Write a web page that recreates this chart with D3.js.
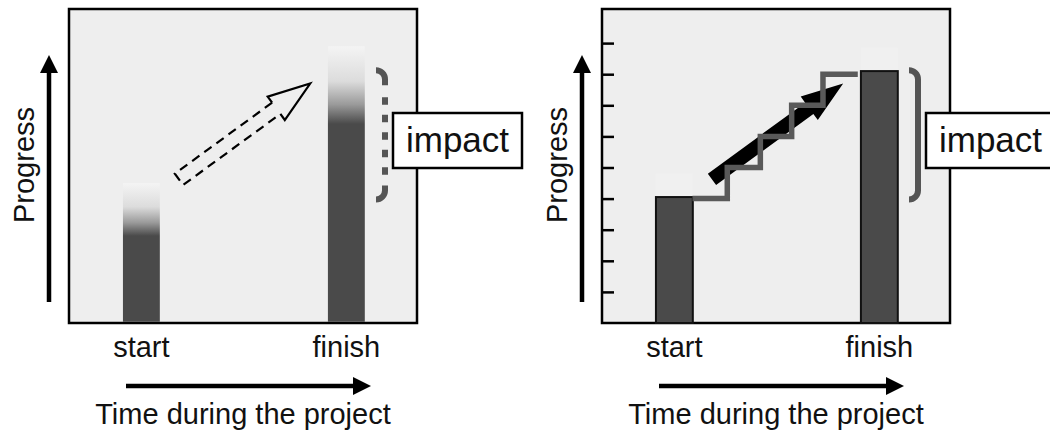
<!DOCTYPE html>
<html>
<head>
<meta charset="utf-8">
<script src="https://cdn.jsdelivr.net/npm/d3@7"></script>
<style>
  body { margin: 0; background: #fff; }
  text { font-family: Arial, "Liberation Sans", Helvetica, sans-serif; fill: #111; }
</style>
</head>
<body>
<div id="chart"></div>
<script>
// values (progress 0-10, time 0-10)
var phases = ["start", "finish"],
    phaseTime = [2.08, 7.97];

// left panel: fuzzy estimate, solid up to one value, fading out to another
var fuzzySolid = [2.8, 6.4],
    fuzzyTop = [4.5, 8.9];

// right panel: measured values and the stepwise path between them
var measured = [4.05, 8.1],
    stepTimes = [2.6, 3.6, 4.55, 5.45, 6.35, 7.35],
    stepValues = [4, 5, 6, 7, 8, 8];

var trendFrom = [3.16, 4.62],
    trendTo = [6.93, 7.7];

var impactRange = [3.97, 8.13];
var progressTicks = [1, 2, 3, 4, 5, 6, 7, 8, 9];

var yLabel = "Progress",
    xLabel = "Time during the project",
    impactLabel = "impact";

var W = 1050, H = 433;
var frameW = 348, frameTop = 9, frameBottom = 323;

var x = d3.scaleLinear().domain([0, 10]).range([0, frameW]);
var y = d3.scaleLinear().domain([0, 10]).range([frameBottom, 12]);
var barW = x(1.06) - x(0);

var svg = d3.select("#chart").append("svg")
    .attr("width", W)
    .attr("height", H);

var defs = svg.append("defs");

function arrowHead(id) {
    defs.append("marker")
        .attr("id", id)
        .attr("viewBox", "0 0 10 10")
        .attr("refX", 0).attr("refY", 5)
        .attr("markerUnits", "userSpaceOnUse")
        .attr("markerWidth", 18).attr("markerHeight", 18)
        .attr("orient", "auto")
      .append("path")
        .attr("d", "M0,0L10,5L0,10Z")
        .attr("fill", "#000");
}
arrowHead("head");

// fuzzy bar gradients
fuzzySolid.forEach(function(v, i) {
    var grad = defs.append("linearGradient")
        .attr("id", "fade" + i)
        .attr("gradientUnits", "userSpaceOnUse")
        .attr("x1", 0).attr("x2", 0)
        .attr("y1", y(fuzzyTop[i])).attr("y2", y(v));
    grad.append("stop").attr("offset", 0).attr("stop-color", "#f4f4f4");
    grad.append("stop").attr("offset", 0.45).attr("stop-color", "#dcdcdc");
    grad.append("stop").attr("offset", 0.75).attr("stop-color", "#9a9a9a");
    grad.append("stop").attr("offset", 1).attr("stop-color", "#4a4a4a");
});

// outline of the trend arrow, in px along its own axis
function arrowPoints(len) {
    var hl = 42, sw = 7, hw = 14.5;
    return {
        shaft: [[len - hl, -sw], [0, -sw], [0, sw], [len - hl, sw]],
        head: [[len - hl, -sw], [len - hl, -hw], [len, 0], [len - hl, hw], [len - hl, sw]],
        full: [[0, -sw], [len - hl, -sw], [len - hl, -hw], [len, 0], [len - hl, hw], [len - hl, sw], [0, sw]]
    };
}

function panel(left, precise) {
    var g = svg.append("g").attr("transform", "translate(" + left + ",0)");

    g.append("rect")
        .attr("x", 0).attr("y", frameTop)
        .attr("width", frameW).attr("height", frameBottom - frameTop)
        .attr("fill", "#eeeeee")
        .attr("stroke", "#000")
        .attr("stroke-width", 2.5);

    if (precise) {
        var ax = g.append("g")
            .call(d3.axisRight(y).tickValues(progressTicks).tickSize(12).tickFormat(""));
        ax.select(".domain").remove();
        ax.selectAll("line").attr("stroke", "#000").attr("stroke-width", 2.5);

        // faint ghosts above the bars
        g.selectAll(".ghost").data(measured).enter().append("rect")
            .attr("x", function(d, i) { return x(phaseTime[i]) - barW / 2; })
            .attr("y", function(d) { return y(d + 0.75); })
            .attr("width", barW)
            .attr("height", function(d) { return y(d) - y(d + 0.75); })
            .attr("fill", "#f0f0f0");

        g.selectAll(".bar").data(measured).enter().append("rect")
            .attr("x", function(d, i) { return x(phaseTime[i]) - barW / 2; })
            .attr("y", function(d) { return y(d); })
            .attr("width", barW)
            .attr("height", function(d) { return y(0) - y(d); })
            .attr("fill", "#4a4a4a")
            .attr("stroke", "#111")
            .attr("stroke-width", 2);
    } else {
        g.selectAll(".bar").data(fuzzyTop).enter().append("rect")
            .attr("x", function(d, i) { return x(phaseTime[i]) - barW / 2; })
            .attr("y", function(d) { return y(d); })
            .attr("width", barW)
            .attr("height", function(d) { return y(0) - y(d) - 1.2; })
            .attr("fill", function(d, i) { return "url(#fade" + i + ")"; });
    }

    // trend arrow
    var x0 = x(trendFrom[0]), y0 = y(trendFrom[1]),
        x1 = x(trendTo[0]), y1 = y(trendTo[1]);
    var len = Math.hypot(x1 - x0, y1 - y0),
        ang = Math.atan2(y1 - y0, x1 - x0) * 180 / Math.PI;
    var pts = arrowPoints(len);
    var ag = g.append("g")
        .attr("transform", "translate(" + x0 + "," + y0 + ") rotate(" + ang + ")");
    var line = d3.line();
    if (precise) {
        ag.append("path").attr("d", line(pts.full) + "Z").attr("fill", "#000");
    } else {
        ag.append("path").attr("d", line(pts.shaft))
            .attr("fill", "none").attr("stroke", "#000")
            .attr("stroke-width", 2.2).attr("stroke-dasharray", "9,6");
        ag.append("path").attr("d", line(pts.head))
            .attr("fill", "none").attr("stroke", "#000")
            .attr("stroke-width", 2.2).attr("stroke-linejoin", "miter");
    }

    if (precise) {
        var steps = d3.line()
            .x(function(d) { return x(d[0]); })
            .y(function(d) { return y(d[1]); })
            .curve(d3.curveStepAfter);
        g.append("path")
            .datum(d3.zip(stepTimes, stepValues))
            .attr("d", steps)
            .attr("fill", "none")
            .attr("stroke", "#595959")
            .attr("stroke-width", 5.5)
            .attr("stroke-linejoin", "miter");
    }

    // bracket
    var bx0 = 307, bx1 = 316, r = 9,
        yT = y(impactRange[1]), yB = y(impactRange[0]);
    var bk = g.append("g")
        .attr("fill", "none")
        .attr("stroke", "#555")
        .attr("stroke-width", 6);
    if (precise) {
        bk.append("path").attr("d",
            "M" + bx0 + "," + yT + "A" + r + "," + r + " 0 0 1 " + bx1 + "," + (yT + r) +
            "L" + bx1 + "," + (yB - r) +
            "A" + r + "," + r + " 0 0 1 " + bx0 + "," + yB);
    } else {
        bk.append("path").attr("d",
            "M" + bx0 + "," + yT + "A" + r + "," + r + " 0 0 1 " + bx1 + "," + (yT + r) +
            "L" + bx1 + "," + (yT + 15));
        bk.append("path").attr("d",
            "M" + bx1 + "," + (yB - 14) + "L" + bx1 + "," + (yB - r) +
            "A" + r + "," + r + " 0 0 1 " + bx0 + "," + yB);
        bk.append("path").attr("d",
            "M" + bx1 + "," + (yT + 27) + "L" + bx1 + "," + (yB - 24))
            .attr("stroke-dasharray", "7.5,10");
    }

    // impact box
    g.append("rect")
        .attr("x", 324).attr("y", 113)
        .attr("width", 129).attr("height", 55)
        .attr("fill", "#fff")
        .attr("stroke", "#000")
        .attr("stroke-width", 2.5);
    g.append("text")
        .attr("x", 388.5).attr("y", 152)
        .attr("text-anchor", "middle")
        .attr("font-size", 35)
        .text(impactLabel);

    // axis arrows
    g.append("line")
        .attr("x1", -20).attr("x2", -20)
        .attr("y1", 302).attr("y2", 73)
        .attr("stroke", "#000").attr("stroke-width", 4.5)
        .attr("marker-end", "url(#head)");
    g.append("line")
        .attr("x1", 57).attr("x2", 284)
        .attr("y1", 386).attr("y2", 386)
        .attr("stroke", "#000").attr("stroke-width", 4.5)
        .attr("marker-end", "url(#head)");

    g.append("text")
        .attr("transform", "translate(-35,165) rotate(-90)")
        .attr("text-anchor", "middle")
        .attr("font-size", 29)
        .text(yLabel);

    g.selectAll(".phase").data(phases).enter().append("text")
        .attr("x", function(d, i) { return x(phaseTime[i]); })
        .attr("y", 357)
        .attr("text-anchor", "middle")
        .attr("font-size", 29)
        .text(function(d) { return d; });

    g.append("text")
        .attr("x", frameW / 2).attr("y", 424)
        .attr("text-anchor", "middle")
        .attr("font-size", 29)
        .text(xLabel);
}

panel(69, false);
panel(602, true);
</script>
</body>
</html>
